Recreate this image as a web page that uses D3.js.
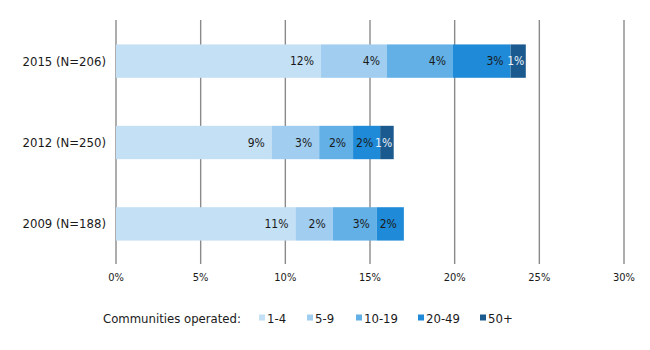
<!DOCTYPE html>
<html>
<head>
<meta charset="utf-8">
<script src="https://cdn.jsdelivr.net/npm/d3@7"></script>
<style>
  body { margin: 0; background: #fff; }
  svg { display: block; font-family: "DejaVu Sans Condensed", "DejaVu Sans", sans-serif; }
</style>
</head>
<body>
<svg id="chart"></svg>
<script>
const years = ["2015 (N=206)", "2012 (N=250)", "2009 (N=188)"];
const groups = ["1-4", "5-9", "10-19", "20-49", "50+"];
const colors = ["#c3e0f5", "#a0cdf0", "#62b0e6", "#1f8ad7", "#1a5a8e"];
const share2015 = [12.1, 3.9, 3.9, 3.4, 0.9];
const share2012 = [9.2, 2.8, 2.0, 1.6, 0.8];
const share2009 = [10.6, 2.2, 2.6, 1.6, 0];
const xTicks = [0, 5, 10, 15, 20, 25, 30];

const rows = [share2015, share2012, share2009].map((vals, i) => {
    let acc = 0;
    return {
        year: years[i],
        segs: vals.map((v, j) => {
            const s = { group: groups[j], x0: acc, x1: acc + v, v: v, idx: j };
            acc += v;
            return s;
        }).filter(s => s.v > 0)
    };
});

const width = 650, height = 350;
const svg = d3.select("#chart").attr("width", width).attr("height", height);

const x = d3.scaleLinear().domain([0, 30]).range([116, 624]);
const y = d3.scaleBand().domain(years).range([20, 265]).paddingInner(0.59).paddingOuter(0.3);
const color = d3.scaleOrdinal().domain(groups).range(colors);

// gridlines
svg.append("g")
    .selectAll("line")
    .data(xTicks)
    .enter().append("line")
    .attr("x1", d => x(d)).attr("x2", d => x(d))
    .attr("y1", 20).attr("y2", 264)
    .attr("stroke", "#8a8a8a")
    .attr("stroke-width", 1.4);

// bars
const rowG = svg.selectAll(".row")
    .data(rows)
    .enter().append("g")
    .attr("class", "row")
    .attr("transform", d => `translate(0,${y(d.year)})`);

rowG.selectAll("rect")
    .data(d => d.segs)
    .enter().append("rect")
    .attr("x", d => x(d.x0))
    .attr("width", d => x(d.x1) - x(d.x0))
    .attr("height", y.bandwidth())
    .attr("fill", d => color(d.group));

rowG.selectAll(".lbl")
    .data(d => d.segs)
    .enter().append("text")
    .attr("class", "lbl")
    .attr("x", d => x(d.x1) - (d.idx === 4 ? 1.5 : 7))
    .attr("y", y.bandwidth() / 2)
    .attr("dy", "0.35em")
    .attr("text-anchor", "end")
    .style("font-size", "12px")
    .style("fill", d => d.idx === 4 ? "#e8f2fa" : "#1a1a1a")
    .text(d => Math.round(d.v) + "%");

// y labels
svg.selectAll(".ylbl")
    .data(years)
    .enter().append("text")
    .attr("class", "ylbl")
    .attr("x", 106)
    .attr("y", d => y(d) + y.bandwidth() / 2)
    .attr("dy", "0.35em")
    .attr("text-anchor", "end")
    .style("font-size", "13px")
    .style("fill", "#1a1a1a")
    .text(d => d);

// x tick labels
svg.selectAll(".xlbl")
    .data(xTicks)
    .enter().append("text")
    .attr("class", "xlbl")
    .attr("x", d => x(d))
    .attr("y", 281)
    .attr("text-anchor", "middle")
    .style("font-size", "11px")
    .style("fill", "#1a1a1a")
    .text(d => d + "%");

// legend
const legend = svg.append("g");
legend.append("text")
    .attr("x", 103).attr("y", 318)
    .attr("dy", "0.35em")
    .style("font-size", "13px")
    .style("fill", "#1a1a1a")
    .text("Communities operated:");

const legendX = [259, 307, 356, 418, 480];
const item = legend.selectAll(".item")
    .data(groups)
    .enter().append("g")
    .attr("class", "item")
    .attr("transform", (d, i) => `translate(${legendX[i]},318)`);
item.append("rect")
    .attr("x", 0).attr("y", -3.5)
    .attr("width", 6).attr("height", 6)
    .attr("fill", d => color(d));
item.append("text")
    .attr("x", 8).attr("dy", "0.35em")
    .style("font-size", "13px")
    .style("fill", "#1a1a1a")
    .text(d => d);
</script>
</body>
</html>
